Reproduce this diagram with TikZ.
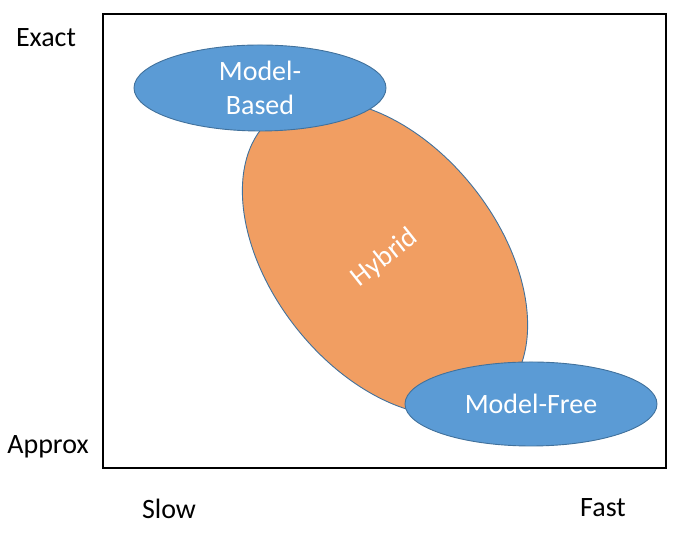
\documentclass[tikz,border=0pt]{standalone}
\usepackage{fontspec}
\setmainfont{Carlito}
\usetikzlibrary{shapes.geometric,positioning}
\definecolor{blobblue}{HTML}{5B9BD5}
\definecolor{blobedge}{HTML}{41719C}
\definecolor{bloborange}{HTML}{F19E62}
\tikzset{
  blob/.style={ellipse, draw=blobedge, line width=0.9pt, text=white,
    inner sep=0pt, align=center, font=\fontsize{28}{34}\selectfont},
  axislabel/.style={font=\fontsize{28}{32}\selectfont, text=black}
}

\begin{document}
\begin{tikzpicture}[x=1pt,y=1pt]
            \useasboundingbox (0,0) rectangle (675,534);

            \node [draw,
              line width=1.4pt,
              minimum width=563pt,
              minimum height=454pt
            ] (frame) at (384.5,293) {};

            \node [blob,
              fill=bloborange,
              minimum width=226pt,
              minimum height=360pt,
              rotate=38.4,
              font=\fontsize{28}{32}\selectfont
            ] (hybrid) at (385,276) {Hybrid};

            \node [blob,
              fill=blobblue,
              minimum width=252pt,
              minimum height=86pt
            ] (based) at (260,446) {Model-\\Based};

            \node [blob,
              fill=blobblue,
              minimum width=252pt,
              minimum height=84pt
            ] (free) at (531,130) {Model-Free};

            \node [axislabel] (exact) at (46,496) {Exact};
            \node [axislabel] (approx) at (48,87) {Approx};
            \node [axislabel] (slow) at (169,25) {Slow};
            \node [axislabel] (fast) at (603,26) {Fast};
          \end{tikzpicture}
\end{document}
